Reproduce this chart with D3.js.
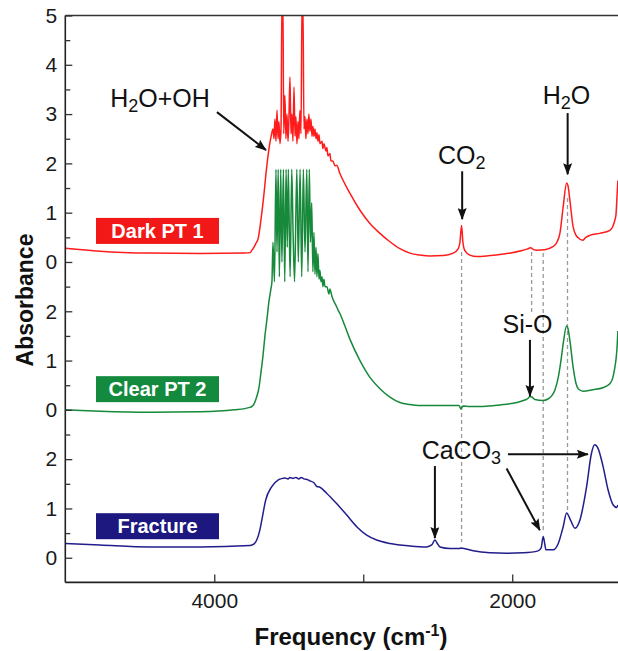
<!DOCTYPE html>
<html><head><meta charset="utf-8">
<script src="https://cdn.jsdelivr.net/npm/d3@7"></script>
<style>body{margin:0;background:#fff} svg{display:block;font-family:"Liberation Sans",Arial,Helvetica,sans-serif}</style>
</head><body><svg id="c" width="618" height="651"></svg>
<script>
// [frequency cm-1, absorbance]
const darkPT1 = [
[5000,0.28],[4767,0.22],[4431,0.18],[4096,0.17],[3794,0.18],[3760,0.19],[3747,0.24],[3733,0.3],[3720,0.38],[3705,0.48],
[3687,0.85],[3671,1.25],[3648,1.93],[3631,2.33],[3615,2.6],
[3606,2.7],[3599,2.5],[3593,2.9],[3586,2.45],[3579,3.08],[3572,2.5],[3566,2.85],[3559,2.4],[3552,2.7],[3546,5.3],[3539,5.3],[3534,2.6],[3526,3.38],[3519,2.5],[3512,3.0],[3505,2.45],[3499,2.9],[3492,3.75],[3485,2.6],[3479,3.0],[3472,2.45],[3465,3.55],[3458,2.55],[3452,2.95],[3445,2.4],[3438,2.85],[3432,2.5],[3425,3.08],[3418,2.6],[3411,5.3],[3405,5.3],[3398,2.7],[3391,2.95],[3385,2.5],[3378,2.9],[3371,2.6],[3365,3.0],[3358,2.65],[3351,2.9],[3344,2.55],[3338,2.75],[3331,2.55],[3324,2.7],[3317,2.5],[3311,2.62],[3304,2.45],[3297,2.58],[3291,2.4],[3277,2.45],[3271,2.3],[3264,2.4],[3250,2.25],[3244,2.32],[3237,2.15],[3224,2.2],[3217,2.05],[3204,2.05],[3190,1.95],[3179,1.96],
[3156,1.79],[3089,1.39],[3022,1.05],[2955,0.78],[2888,0.58],[2821,0.41],[2754,0.27],[2687,0.18],[2620,0.14],[2552,0.12],[2463,0.13],[2396,0.18],[2362,0.27],[2351,0.4],[2340,0.74],[2331,0.4],[2318,0.23],[2284,0.14],[2237,0.11],[2150,0.13],[2083,0.15],[2036,0.17],[1926,0.24],[1900,0.26],[1877,0.29],[1855,0.25],[1836,0.24],[1781,0.25],[1727,0.31],[1700,0.4],[1680,0.58],[1658,1.12],[1635,1.6],[1626,1.55],[1613,1.25],[1591,0.71],[1573,0.55],[1557,0.49],[1528,0.44],[1506,0.5],[1479,0.54],[1412,0.58],[1345,0.64],[1325,0.72],[1311,0.85],[1304,0.95],[1298,1.25],[1291,1.65]
];
const clearPT2 = [
[5000,0.0],[4767,-0.03],[4431,-0.05],[4096,-0.04],[3867,0.0],[3760,0.05],[3747,0.07],[3733,0.12],[3720,0.22],[3700,0.45],
[3687,0.75],[3673,1.1],[3660,1.5],[3646,1.85],[3633,2.2],[3620,2.45],
[3613,2.6],[3606,3.4],[3596,2.6],[3586,4.88],[3579,3.2],[3571,4.88],[3563,2.7],[3554,4.88],[3546,3.0],[3536,4.88],[3527,2.6],[3518,4.88],[3510,3.3],[3503,4.88],[3491,2.7],[3480,4.88],[3471,3.6],[3461,2.6],[3446,4.88],[3436,3.0],[3424,4.88],[3413,2.7],[3402,4.88],[3391,3.2],[3379,4.88],[3371,2.8],[3362,4.88],[3354,3.4],[3346,4.2],[3338,2.8],[3331,3.6],[3324,2.75],[3317,3.3],[3311,2.7],[3304,3.17],[3297,2.65],[3291,2.83],[3284,2.6],[3277,2.7],[3271,2.5],[3264,2.65],[3257,2.5],[3244,2.5],[3230,2.35],[3224,2.45],[3210,2.3],[3197,2.2],[3183,2.12],[3170,2.03],[3156,1.95],
[3123,1.7],[3089,1.43],[3022,1.0],[2955,0.66],[2888,0.43],[2821,0.26],[2754,0.15],[2687,0.11],[2620,0.09],[2485,0.09],[2385,0.09],[2358,0.09],[2344,0.02],[2331,0.08],[2284,0.07],[2195,0.07],[2083,0.1],[1969,0.15],[1915,0.2],[1895,0.23],[1881,0.27],[1868,0.26],[1848,0.21],[1794,0.19],[1760,0.22],[1734,0.29],[1714,0.4],[1691,0.66],[1673,1.0],[1658,1.34],[1635,1.7],[1626,1.65],[1613,1.41],[1591,0.86],[1573,0.55],[1557,0.43],[1524,0.38],[1459,0.41],[1392,0.45],[1345,0.53],[1325,0.65],[1311,0.86],[1295,1.34],[1291,1.6]
];
const fracture = [
[5000,0.29],[4767,0.26],[4431,0.22],[4096,0.22],[3760,0.25],[3733,0.28],[3715,0.36],[3695,0.55],[3680,0.78],[3655,1.17],
[3615,1.44],[3570,1.58],[3540,1.61],[3526,1.62],[3505,1.6],[3492,1.63],[3472,1.61],[3452,1.63],[3432,1.6],
[3418,1.63],[3398,1.6],[3371,1.58],[3358,1.56],[3331,1.52],[3313,1.45],[3291,1.43],[3246,1.31],[3179,1.1],[3112,0.87],
[3044,0.63],[2977,0.46],[2910,0.36],[2821,0.29],[2687,0.24],[2575,0.22],[2540,0.26],[2519,0.36],[2505,0.3],[2485,0.22],
[2418,0.19],[2351,0.19],[2345,0.2],[2262,0.14],[2150,0.1],[2038,0.09],[1926,0.1],[1826,0.14],[1806,0.2],[1792,0.43],
[1780,0.25],[1774,0.16],[1725,0.16],[1691,0.29],[1658,0.63],[1635,0.91],[1608,0.76],[1579,0.6],[1546,0.76],[1501,1.44],
[1468,2.12],[1446,2.29],[1424,2.22],[1390,1.85],[1356,1.37],[1322,1.07],[1299,1.02],[1291,1.07]
];
const seriesData = [darkPT1, clearPT2, fracture];
const seriesNames = ["Dark PT 1", "Clear PT 2", "Fracture"];
const seriesOffsets = [6, 3, 0];
const seriesColors = ["#ff1c1c", "#17893b", "#221d8c"];
const boxColors = ["#f21818", "#138a3d", "#1c1880"];
const boxValues = [0.63, 0.42, 0.64];

const yTickValues = [0,1,2,3,4,5,6,7,8,9,10,11];
const yTickLabels = ["0","1","2","0","1","2","0","1","2","3","4","5"];
const yMinorValues = [0.5,1.5,2.5,3.5,4.5,5.5,6.5,7.5,8.5,9.5,10.5];
const xTickValues = [4000, 3000, 2000];
const xTickLabels = ["4000", "", "2000"];

// dashed guide lines: frequency, top (overall units), bottom (overall units)
const guideFreqs = [2340, 1870, 1792, 1629];
const guideTops = [6.2, 6.2, 6.18, 7.3];
const guideBottoms = [0.32, 4.96, 0.56, 0.9];

// annotations: text pieces (flag 1 = subscript), anchor freq/value
const annoTexts = [
  {parts:[["H"],["2",1],["O+OH"]], f:4699, v:9.14},
  {parts:[["CO"],["2",1]], f:2499, v:7.99},
  {parts:[["H"],["2",1],["O"]], f:1795, v:9.2},
  {parts:[["Si-O"]], f:2065, v:4.56},
  {parts:[["CaCO"],["3",1]], f:2608, v:2.0}
];
const annoArrows = [
  [3982, 9.04, 3653, 8.27],
  [2336, 7.84, 2336, 6.87],
  [1628, 9.02, 1628, 7.78],
  [1881, 4.42, 1881, 3.28],
  [2519, 1.86, 2519, 0.40],
  [2038, 1.81, 1815, 0.56],
  [2029, 2.10, 1492, 2.10]
];

const svg = d3.select("#c");
const x = d3.scaleLinear().domain([5000, 1290]).range([65.3, 618]);
const y = d3.scaleLinear().domain([-0.5, 11]).range([582.4, 15.5]);
const X0 = x.range()[0], X1 = x.range()[1];

const defs = svg.append("defs");
defs.append("clipPath").attr("id","plot").append("rect")
  .attr("x", X0).attr("y", y(11)).attr("width", X1 - X0).attr("height", y(-0.5) - y(11));
defs.append("marker").attr("id","ah").attr("viewBox","0 0 12 9").attr("refX",11).attr("refY",4.5)
  .attr("markerWidth",12).attr("markerHeight",9).attr("markerUnits","userSpaceOnUse").attr("orient","auto")
  .append("path").attr("d","M0,0 L12,4.5 L0,9 L2,4.5 Z").attr("fill","#111");

// guides
const gg = svg.append("g");
guideFreqs.forEach((f,i) => {
  gg.append("line").attr("x1", x(f)).attr("x2", x(f)).attr("y1", y(guideTops[i])).attr("y2", y(guideBottoms[i]))
    .attr("stroke","#9a9a9a").attr("stroke-width",1.3).attr("stroke-dasharray","4,3");
});

// traces
const plot = svg.append("g").attr("clip-path","url(#plot)");
seriesData.forEach((data, i) => {
  const line = d3.line().x(d => x(d[0])).y(d => y(d[1] + seriesOffsets[i])).curve(d3.curveMonotoneX);
  plot.append("path").datum(data).attr("d", line).attr("fill","none")
    .attr("stroke", seriesColors[i]).attr("stroke-width",1.5).attr("stroke-linejoin","round");
});

// frame
svg.append("line").attr("x1",X0).attr("x2",X1).attr("y1",y(11)).attr("y2",y(11)).attr("stroke","#333").attr("stroke-width",1.5);
svg.append("line").attr("x1",X0).attr("x2",X0).attr("y1",y(11)).attr("y2",y(-0.5)).attr("stroke","#222").attr("stroke-width",1.6);
svg.append("line").attr("x1",X0).attr("x2",X1).attr("y1",y(-0.5)).attr("y2",y(-0.5)).attr("stroke","#222").attr("stroke-width",1.6);

// y axis
const gy = svg.append("g").attr("transform",`translate(${X0},0)`)
  .call(d3.axisLeft(y).tickValues(yTickValues).tickSize(-7).tickPadding(8).tickFormat((d,i) => yTickLabels[i]));
gy.select(".domain").remove();
gy.attr("font-family", null).attr("font-size", null);
gy.selectAll("text").attr("font-size",21).attr("fill","#1a1a1a");
gy.selectAll("line").attr("stroke","#333").attr("stroke-width",1.3);
const gym = svg.append("g").attr("transform",`translate(${X0},0)`)
  .call(d3.axisLeft(y).tickValues(yMinorValues).tickSize(-5).tickFormat(""));
gym.select(".domain").remove();
gym.selectAll("line").attr("stroke","#333").attr("stroke-width",1.3);

// x axis
const gx = svg.append("g").attr("transform",`translate(0,${y(-0.5)})`)
  .call(d3.axisBottom(x).tickValues(xTickValues).tickSize(-8).tickPadding(11).tickFormat((d,i) => xTickLabels[i]));
gx.select(".domain").remove();
gx.attr("font-family", null).attr("font-size", null);
gx.selectAll("text").attr("font-size",21).attr("fill","#1a1a1a");
gx.selectAll("line").attr("stroke","#333").attr("stroke-width",1.3);

// axis titles
svg.append("text").attr("transform","translate(33,300) rotate(-90)").attr("text-anchor","middle")
  .attr("font-size",23).attr("font-weight","bold").attr("fill","#111").text("Absorbance");
const ft = svg.append("text").attr("x",351).attr("y",645).attr("text-anchor","middle")
  .attr("font-size",24).attr("font-weight","bold").attr("fill","#111");
ft.append("tspan").text("Frequency (cm");
ft.append("tspan").attr("font-size",16).attr("dy",-9).text("-1");
ft.append("tspan").attr("dy",9).text(")");

// series label boxes
seriesNames.forEach((n,i) => {
  const cy = y(boxValues[i] + seriesOffsets[i]);
  svg.append("rect").attr("x",96).attr("y",cy-13).attr("width",123).attr("height",26).attr("fill",boxColors[i]);
  svg.append("text").attr("x",157.5).attr("y",cy+7).attr("text-anchor","middle").attr("font-size",20)
    .attr("font-weight","bold").attr("fill","#fff").text(n);
});

// annotations
annoTexts.forEach(a => {
  const t = svg.append("text").attr("x", x(a.f)).attr("y", y(a.v)).attr("font-size",25).attr("fill","#111");
  let down = false;
  a.parts.forEach(p => {
    const ts = t.append("tspan").text(p[0]);
    if (p[1]) { ts.attr("font-size",18).attr("dy",5); down = true; }
    else if (down) { ts.attr("dy",-5); down = false; }
  });
});
annoArrows.forEach(a => {
  svg.append("line").attr("x1",x(a[0])).attr("y1",y(a[1])).attr("x2",x(a[2])).attr("y2",y(a[3]))
    .attr("stroke","#111").attr("stroke-width",2).attr("marker-end","url(#ah)");
});
</script></body></html>
